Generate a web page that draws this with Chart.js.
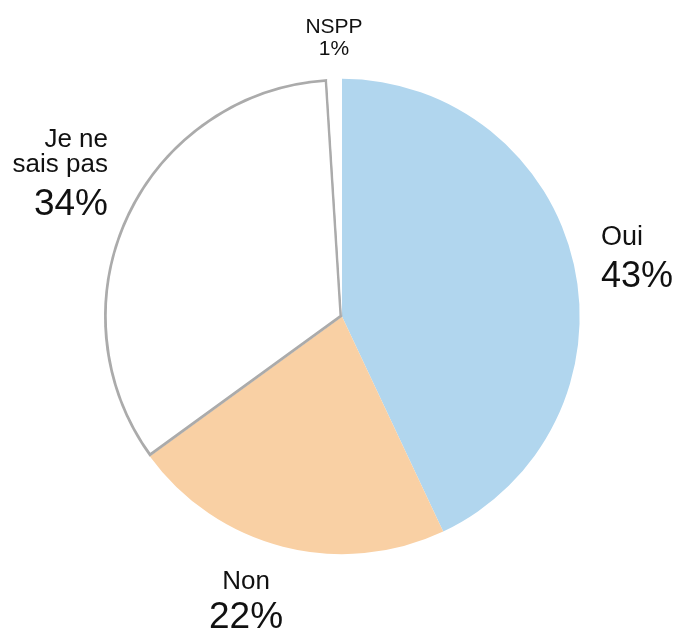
<!DOCTYPE html>
<html>
<head>
<meta charset="utf-8">
<script src="https://cdn.jsdelivr.net/npm/chart.js@4"></script>
<style>
  html, body { margin: 0; padding: 0; background: #fff; }
  #wrap { width: 678px; height: 633px; }
</style>
</head>
<body>
<div id="wrap"><canvas id="pie"></canvas></div>
<script>
var categories = ['Oui', 'Non', 'Je ne sais pas', 'NSPP'];
var nameLines = [['Oui'], ['Non'], ['Je ne', 'sais pas'], ['NSPP']];
var values = [43, 22, 34, 1];

// where each label sits, relative to the pie centre
var labelPlace = [
    { dx: 259, dy: -72, align: 'left', nameSize: 27, pctSize: 36, gap: 26, pctGap: 42 },
    { dx: -96, dy: 272, align: 'center', nameSize: 26, pctSize: 37, gap: 26, pctGap: 39 },
    { dx: -234, dy: -170, align: 'right', nameSize: 26, pctSize: 37, gap: 25, pctGap: 43 },
    { dx: -8, dy: -284, align: 'center', nameSize: 21, pctSize: 21, gap: 22, pctGap: 22 }
];

var outsideLabels = {
    id: 'outsideLabels',
    afterDraw: function (chart) {
        var ctx = chart.ctx;
        var arc = chart.getDatasetMeta(0).data[0];
        var cx = arc.x, cy = arc.y;
        ctx.save();
        ctx.fillStyle = '#111';
        ctx.textBaseline = 'alphabetic';
        for (var i = 0; i < values.length; i++) {
            var p = labelPlace[i];
            var x = cx + p.dx;
            var y = cy + p.dy;
            ctx.textAlign = p.align;
            ctx.font = p.nameSize + 'px "Liberation Sans", Arial, sans-serif';
            var lines = nameLines[i];
            for (var j = 0; j < lines.length; j++) {
                ctx.fillText(lines[j], x, y);
                if (j < lines.length - 1) y += p.gap;
            }
            y += p.pctGap;
            ctx.font = p.pctSize + 'px "Liberation Sans", Arial, sans-serif';
            ctx.fillText(values[i] + '%', x, y);
        }
        ctx.restore();
    }
};

var ctx = document.getElementById('pie').getContext('2d');
var myChart = new Chart(ctx, {
    type: 'pie',
    data: {
        labels: categories,
        datasets: [
            {
                data: values,
                backgroundColor: ['#b1d6ee', '#f9d0a4', '#ffffff', '#ffffff'],
                borderColor: ['#b1d6ee', '#f9d0a4', '#ababab', '#ffffff'],
                borderWidth: [0, 0, 2.5, 0],
                borderAlign: 'inner',
            },
        ],
    },
    options: {
        responsive: true,
        maintainAspectRatio: false,
        animation: false,
        layout: {
            padding: { top: 78, bottom: 78, left: 104, right: 98 },
        },
        plugins: {
            legend: { display: false },
            tooltip: { enabled: false },
        },
    },
    plugins: [outsideLabels],
});
</script>
</body>
</html>
